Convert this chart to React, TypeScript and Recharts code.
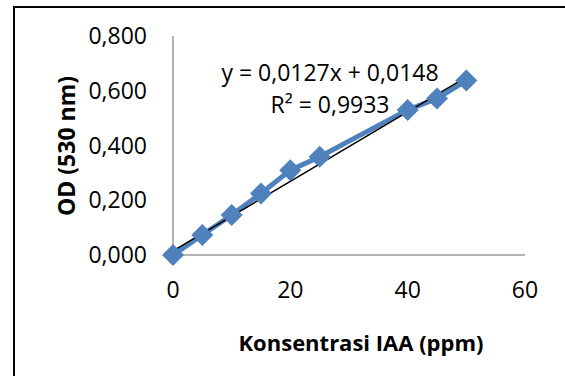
import React from "react";
import { LineChart, Line, XAxis, YAxis } from "recharts";

// IAA standard curve readings
const concentrations = [0, 5, 10, 15, 20, 25, 40, 45, 50];
const odValues = [0.0, 0.073, 0.146, 0.225, 0.31, 0.359, 0.53, 0.572, 0.637];

// linear trend line endpoints (y = 0,0127x + 0,0148)
const trendX = [0, 50];
const trendY = [0.0148, 0.6498];

const xTicks = [0, 20, 40, 60];
const yTicks = [0, 0.2, 0.4, 0.6, 0.8];

const BLUE = "#4F81BD";
const AXIS = "#9a9a9a";
const FONT = "'Open Sans', sans-serif";

const points = concentrations.map((x, i) => ({ x, y: odValues[i] }));
const trend = trendX.map((x, i) => ({ x, y: trendY[i] }));

const fmtY = (v: number) => v.toFixed(3).replace(".", ",");

function Diamond(props: any) {
  const { cx, cy, index } = props;
  const r = 11;
  return (
    <polygon
      key={`d-${index}`}
      points={`${cx},${cy - r} ${cx + r},${cy} ${cx},${cy + r} ${cx - r},${cy}`}
      fill={BLUE}
    />
  );
}

export default function App() {
  return (
    <div
      style={{
        position: "absolute",
        left: 0,
        top: 0,
        width: 565,
        height: 376,
        overflow: "hidden",
        background: "#fff",
        fontFamily: FONT,
      }}
    >
      <div
        style={{
          position: "absolute",
          left: 110,
          top: -27,
          fontSize: 23,
          lineHeight: "28px",
          whiteSpace: "nowrap",
          color: "#000",
        }}
      >
        Kurva Standar IAA (Salkowski)
      </div>
      <div
        style={{
          position: "absolute",
          left: 13,
          top: 6,
          width: 620,
          height: 420,
          borderLeft: "2px solid #000",
          borderTop: "2px solid #000",
        }}
      />
      <LineChart
        width={565}
        height={376}
        data={points}
        margin={{ top: 36, right: 40, bottom: 120, left: 172 }}
        style={{ position: "absolute", left: 0, top: 0 }}
      >
        <XAxis
          type="number"
          dataKey="x"
          domain={[0, 60]}
          ticks={xTicks}
          height={1}
          tickSize={0}
          tickMargin={27}
          tickLine={false}
          axisLine={{ stroke: AXIS, strokeWidth: 1.5 }}
          tick={{ fill: "#000", fontSize: 23, fontFamily: FONT }}
        />
        <YAxis
          type="number"
          domain={[0, 0.8]}
          ticks={yTicks}
          width={1}
          tickSize={0}
          tickMargin={26}
          tickLine={false}
          tickFormatter={fmtY}
          axisLine={{ stroke: AXIS, strokeWidth: 1.5 }}
          tick={{ fill: "#000", fontSize: 23, fontFamily: FONT }}
        />
        <Line
          data={points}
          dataKey="y"
          stroke={BLUE}
          strokeWidth={5}
          dot={Diamond}
          activeDot={false}
          isAnimationActive={false}
        />
        <Line
          data={trend}
          dataKey="y"
          stroke="#000"
          strokeWidth={1.5}
          dot={false}
          activeDot={false}
          isAnimationActive={false}
        />
      </LineChart>
      <div
        style={{
          position: "absolute",
          left: 180,
          top: 56,
          width: 300,
          textAlign: "center",
          fontSize: 23,
          lineHeight: "32px",
          color: "#000",
        }}
      >
        y = 0,0127x + 0,0148
        <br />
        R² = 0,9933
      </div>
      <div
        style={{
          position: "absolute",
          left: 66,
          top: 146,
          transform: "translate(-50%, -50%) rotate(-90deg)",
          fontSize: 23,
          fontWeight: 700,
          whiteSpace: "nowrap",
          color: "#000",
        }}
      >
        OD (530 nm)
      </div>
      <div
        style={{
          position: "absolute",
          left: 361,
          top: 342,
          transform: "translate(-50%, -50%)",
          fontSize: 22,
          fontWeight: 700,
          whiteSpace: "nowrap",
          color: "#000",
        }}
      >
        Konsentrasi IAA (ppm)
      </div>
    </div>
  );
}
